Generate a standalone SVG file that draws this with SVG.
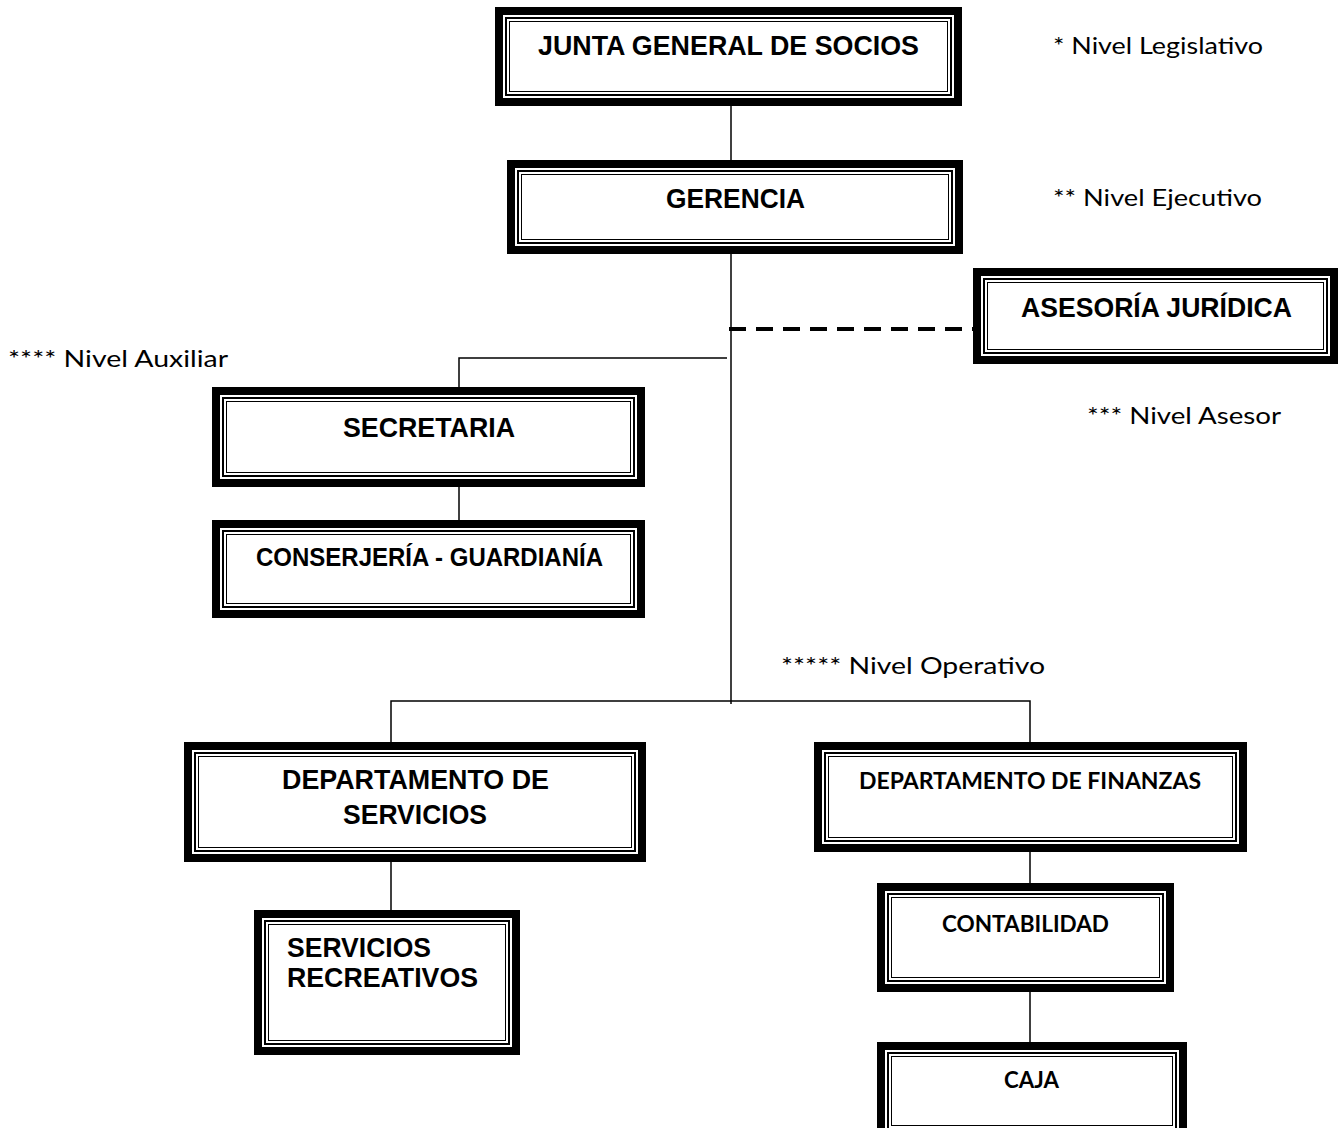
<svg xmlns="http://www.w3.org/2000/svg" width="1340" height="1128" viewBox="0 0 1340 1128">
  <style>
    .bg { fill: #ffffff; }
    .outer { fill: #ffffff; stroke: #000000; stroke-width: 8; }
    .in1 { fill: none; stroke: #000000; stroke-width: 2; }
    .in2 { fill: none; stroke: #000000; stroke-width: 1; }
    .link { fill: none; stroke: #000000; stroke-width: 1.5; }
    .dash { fill: none; stroke: #000000; stroke-width: 4; stroke-dasharray: 17 10; }
    .t { font-family: "Liberation Sans", Arial, sans-serif; font-weight: bold; font-size: 28px; fill: #000000; }
    .c { font-family: Lato, "Open Sans", sans-serif; font-weight: bold; font-size: 22px; fill: #000000; }
    .lvl { font-family: Lato, "Open Sans", sans-serif; font-size: 23px; fill: #000000; }
  </style>

  <rect class="bg" x="0" y="0" width="1340" height="1128"/>

  <!-- connectors -->
  <g id="connectors">
    <line class="link" x1="731" y1="106" x2="731" y2="160"/>
    <line class="link" x1="731" y1="254" x2="731" y2="704"/>
    <line class="dash" x1="729" y1="329" x2="973" y2="329"/>
    <polyline class="link" points="727,358 459,358 459,387"/>
    <line class="link" x1="459" y1="487" x2="459" y2="520"/>
    <polyline class="link" points="391,742 391,701 1030,701 1030,742"/>
    <line class="link" x1="391" y1="862" x2="391" y2="910"/>
    <line class="link" x1="1030" y1="852" x2="1030" y2="883"/>
    <line class="link" x1="1030" y1="992" x2="1030" y2="1042"/>
  </g>

  <!-- nodes: thick outer frame with two thin inner rules -->
  <g id="junta">
    <rect class="outer" x="499" y="11" width="459" height="91"/>
    <rect class="in1" x="506" y="18" width="445" height="77"/>
    <rect class="in2" x="509.5" y="21.5" width="438" height="70"/>
    <text class="t" x="538" y="55" textLength="381" lengthAdjust="spacingAndGlyphs">JUNTA GENERAL DE SOCIOS</text>
  </g>

  <g id="gerencia">
    <rect class="outer" x="511" y="164" width="448" height="86"/>
    <rect class="in1" x="518" y="171" width="434" height="72"/>
    <rect class="in2" x="521.5" y="174.5" width="427" height="65"/>
    <text class="t" x="666" y="208" textLength="139" lengthAdjust="spacingAndGlyphs">GERENCIA</text>
  </g>

  <g id="asesoria">
    <rect class="outer" x="977" y="272" width="357" height="88"/>
    <rect class="in1" x="984" y="279" width="343" height="74"/>
    <rect class="in2" x="987.5" y="282.5" width="336" height="67"/>
    <text class="t" x="1021" y="317" textLength="271" lengthAdjust="spacingAndGlyphs">ASESORÍA JURÍDICA</text>
  </g>

  <g id="secretaria">
    <rect class="outer" x="216" y="391" width="425" height="92"/>
    <rect class="in1" x="223" y="398" width="411" height="78"/>
    <rect class="in2" x="226.5" y="401.5" width="404" height="71"/>
    <text class="t" x="343" y="437" textLength="172" lengthAdjust="spacingAndGlyphs">SECRETARIA</text>
  </g>

  <g id="conserjeria">
    <rect class="outer" x="216" y="524" width="425" height="90"/>
    <rect class="in1" x="223" y="531" width="411" height="76"/>
    <rect class="in2" x="226.5" y="534.5" width="404" height="69"/>
    <text class="t" x="256" y="566" textLength="347" lengthAdjust="spacingAndGlyphs" style="font-size:25px">CONSERJERÍA - GUARDIANÍA</text>
  </g>

  <g id="dep-servicios">
    <rect class="outer" x="188" y="746" width="454" height="112"/>
    <rect class="in1" x="195" y="753" width="440" height="98"/>
    <rect class="in2" x="198.5" y="756.5" width="433" height="91"/>
    <text class="t" x="282" y="789" textLength="267" lengthAdjust="spacingAndGlyphs">DEPARTAMENTO DE</text>
    <text class="t" x="343" y="824" textLength="144" lengthAdjust="spacingAndGlyphs">SERVICIOS</text>
  </g>

  <g id="serv-recreativos">
    <rect class="outer" x="258" y="914" width="258" height="137"/>
    <rect class="in1" x="265" y="921" width="244" height="123"/>
    <rect class="in2" x="268.5" y="924.5" width="237" height="116"/>
    <text class="t" x="287" y="957" textLength="144" lengthAdjust="spacingAndGlyphs">SERVICIOS</text>
    <text class="t" x="287" y="987" textLength="191" lengthAdjust="spacingAndGlyphs">RECREATIVOS</text>
  </g>

  <g id="dep-finanzas">
    <rect class="outer" x="818" y="746" width="425" height="102"/>
    <rect class="in1" x="825" y="753" width="411" height="88"/>
    <rect class="in2" x="828.5" y="756.5" width="404" height="81"/>
    <text class="c" x="859" y="789" textLength="342" lengthAdjust="spacingAndGlyphs">DEPARTAMENTO DE FINANZAS</text>
  </g>

  <g id="contabilidad">
    <rect class="outer" x="881" y="887" width="289" height="101"/>
    <rect class="in1" x="888" y="894" width="275" height="87"/>
    <rect class="in2" x="891.5" y="897.5" width="268" height="80"/>
    <text class="c" x="942" y="932" textLength="167" lengthAdjust="spacingAndGlyphs">CONTABILIDAD</text>
  </g>

  <g id="caja">
    <rect class="outer" x="881" y="1046" width="302" height="90"/>
    <rect class="in1" x="888" y="1053" width="288" height="76"/>
    <rect class="in2" x="891.5" y="1056.5" width="281" height="69"/>
    <text class="c" x="1004" y="1088" textLength="55" lengthAdjust="spacingAndGlyphs">CAJA</text>
  </g>

  <!-- level annotations -->
  <g id="levels">
    <text class="lvl" x="1053" y="54" textLength="210" lengthAdjust="spacingAndGlyphs">* Nivel Legislativo</text>
    <text class="lvl" x="1053" y="206" textLength="209" lengthAdjust="spacingAndGlyphs">** Nivel Ejecutivo</text>
    <text class="lvl" x="1087" y="424" textLength="194" lengthAdjust="spacingAndGlyphs">*** Nivel Asesor</text>
    <text class="lvl" x="8" y="367" textLength="220" lengthAdjust="spacingAndGlyphs">**** Nivel Auxiliar</text>
    <text class="lvl" x="781" y="674" textLength="264" lengthAdjust="spacingAndGlyphs">***** Nivel Operativo</text>
  </g>
</svg>
